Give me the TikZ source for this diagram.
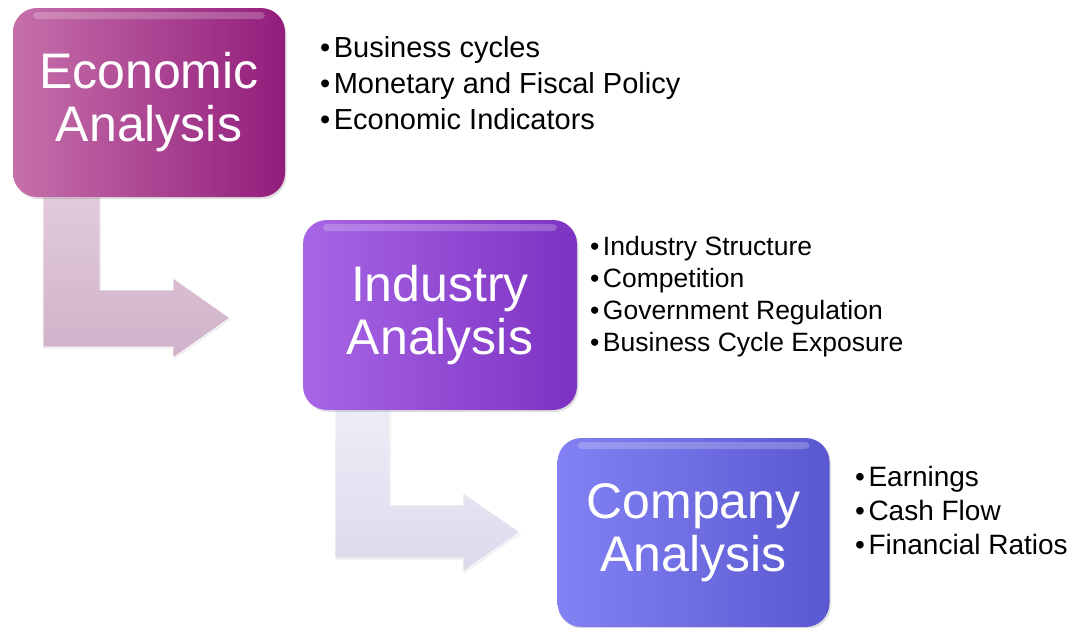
\documentclass[tikz,border=0pt]{standalone}
\usepackage{fontspec}
\setmainfont{Liberation Sans}
\usetikzlibrary{positioning,shadows}

\definecolor{econL}{HTML}{C670AA}
\definecolor{econR}{HTML}{921D7C}
\definecolor{indL}{HTML}{A866E6}
\definecolor{indR}{HTML}{7D32C2}
\definecolor{compL}{HTML}{8282F4}
\definecolor{compR}{HTML}{5A58D0}
\definecolor{arrAT}{HTML}{E2CADC}
\definecolor{arrAB}{HTML}{CFB2C9}
\definecolor{arrBT}{HTML}{EDEDF7}
\definecolor{arrBB}{HTML}{DADAEC}

\tikzset{
  stage/.style={rounded corners=24pt, minimum width=272pt, minimum height=189pt,
    align=center, text=white, font=\fontsize{50}{53}\selectfont,
    execute at begin node={\rule{0pt}{42pt}},
    drop shadow={opacity=.25, shadow xshift=1.5pt, shadow yshift=-2pt},
    path picture={\fill[white,opacity=.22,rounded corners=4pt]
      ([xshift=20pt,yshift=-4pt]path picture bounding box.north west) rectangle
      ([xshift=-20pt,yshift=-11pt]path picture bounding box.north east);}},
  bentarrow/.style={draw=white, line width=.8pt, line join=miter,
    drop shadow={opacity=.15, shadow xshift=1pt, shadow yshift=-1.5pt}},
  points/.style={anchor=north west, inner sep=0pt, align=left}
}
\newcommand{\itm}{•\hspace{3.5pt}}

\begin{document}
\begin{tikzpicture}[x=1pt,y=-1pt]
\useasboundingbox (0,0) rectangle (1071,627);

% bent arrows between the stages
\path[bentarrow, top color=arrAT, bottom color=arrAB]
  (43,197) -- (100,197) -- (100,290) -- (173,290) -- (173,278) -- (230,318)
  -- (173,358) -- (173,347) -- (43,347) -- cycle;
\path[bentarrow, top color=arrBT, bottom color=arrBB]
  (335,410) -- (390,410) -- (390,505) -- (463,505) -- (463,493) -- (520,532)
  -- (463,572) -- (463,558) -- (335,558) -- cycle;

% the three stages
\node[stage, left color=econL, right color=econR] (econ) at (149,102.5) {Economic\\Analysis};
\node[stage, minimum width=274pt, minimum height=190pt, left color=indL, right color=indR] (ind) at (440,315) {Industry\\Analysis};
\node[stage, left color=compL, right color=compR] (comp) at (693.5,532.5) {Company\\Analysis};

% bullet points
\node[points, font=\fontsize{29}{36}\selectfont] (econpts) at (320,36)
  {\itm Business cycles\\\itm Monetary and Fiscal Policy\\\itm Economic Indicators};
\node[points, font=\fontsize{26.5}{32}\selectfont] (indpts) at (590,236)
  {\itm Industry Structure\\\itm Competition\\\itm Government Regulation\\\itm Business Cycle Exposure};
\node[points, font=\fontsize{28}{34}\selectfont] (comppts) at (855,466)
  {\itm Earnings\\\itm Cash Flow\\\itm Financial Ratios};
\end{tikzpicture}
\end{document}
